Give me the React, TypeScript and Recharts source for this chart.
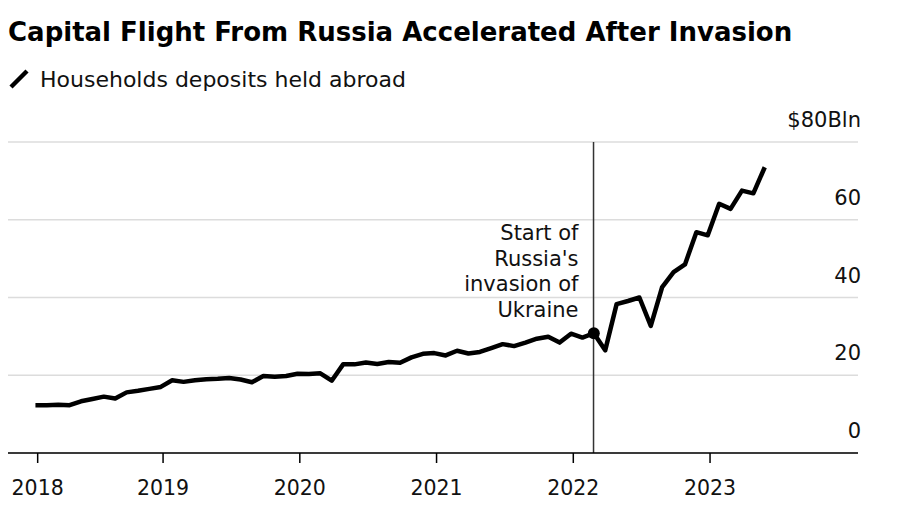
import {
  CartesianGrid,
  Line,
  LineChart,
  ReferenceDot,
  ReferenceLine,
  XAxis,
  YAxis,
} from "recharts";

// monthly, end of month, $ billions
const MONTHS = [
  "2018-01", "2018-02", "2018-03", "2018-04", "2018-05", "2018-06", "2018-07", "2018-08", "2018-09", "2018-10", "2018-11", "2018-12",
  "2019-01", "2019-02", "2019-03", "2019-04", "2019-05", "2019-06", "2019-07", "2019-08", "2019-09", "2019-10", "2019-11", "2019-12",
  "2020-01", "2020-02", "2020-03", "2020-04", "2020-05", "2020-06", "2020-07", "2020-08", "2020-09", "2020-10", "2020-11", "2020-12",
  "2021-01", "2021-02", "2021-03", "2021-04", "2021-05", "2021-06", "2021-07", "2021-08", "2021-09", "2021-10", "2021-11", "2021-12",
  "2022-01", "2022-02", "2022-03", "2022-04", "2022-05", "2022-06", "2022-07", "2022-08", "2022-09", "2022-10", "2022-11", "2022-12",
  "2023-01", "2023-02", "2023-03", "2023-04", "2023-05",
];

const DEPOSITS = [
  12.3, 12.3, 12.4, 12.3, 13.3, 13.9, 14.5, 14.0, 15.6, 16.0, 16.5, 17.0,
  18.7, 18.3, 18.7, 19.0, 19.1, 19.3, 18.9, 18.2, 19.8, 19.6, 19.8, 20.4,
  20.3, 20.5, 18.6, 22.8, 22.8, 23.3, 22.9, 23.4, 23.2, 24.6, 25.5, 25.7,
  25.1, 26.3, 25.6, 26.0, 27.0, 28.0, 27.5, 28.4, 29.4, 29.9, 28.4, 30.7,
  29.7, 30.8, 26.4, 38.3, 39.1, 40.0, 32.7, 42.7, 46.5, 48.5, 56.8, 56.0,
  64.1, 62.8, 67.5, 66.8, 73.5,
];

const Y_TICKS = [0, 20, 40, 60, 80];
const X_TICKS = [2018.083, 2019, 2020, 2021, 2022, 2023];
const INVASION = 2022 + 54 / 365; // Feb 24, 2022
const INVASION_MONTH = "2022-02";
const NOTE_LINES = ["Start of", "Russia's", "invasion of", "Ukraine"];

const FONT = "'DejaVu Sans', 'Liberation Sans', Arial, sans-serif";

// month string -> fractional year, placed near the end of the month
const toYear = (m: string) => {
  const [y, mo] = m.split("-").map(Number);
  return y + (mo - 0.2) / 12;
};

const data = MONTHS.map((m, i) => ({ month: m, t: toYear(m), value: DEPOSITS[i] }));
const invasionPoint = data.find((d) => d.month === INVASION_MONTH)!;

function YTick({ y, payload }: any) {
  const v = payload.value;
  return (
    <text x={861} y={y - 15} textAnchor="end" fontSize={21} fontFamily={FONT} fill="#111">
      {v === 80 ? "$80Bln" : v}
    </text>
  );
}

function XTick({ x, y, payload }: any) {
  return (
    <text x={x} y={y + 30} textAnchor="middle" fontSize={20.5} fontFamily={FONT} fill="#111">
      {Math.floor(payload.value)}
    </text>
  );
}

function InvasionNote({ viewBox }: any) {
  const right = viewBox.x - 15;
  return (
    <text textAnchor="end" fontSize={21} fontFamily={FONT} fill="#111">
      {NOTE_LINES.map((line, i) => (
        <tspan key={line} x={right} y={viewBox.y + 98 + i * 25.5}>
          {line}
        </tspan>
      ))}
    </text>
  );
}

export default function App() {
  return (
    <div style={{ position: "absolute", left: 0, top: 0, width: 900, height: 510, background: "#fff", fontFamily: FONT }}>
      <svg width={900} height={110} style={{ position: "absolute", left: 0, top: 0 }}>
        <text x={8} y={41} fontSize={26} fontWeight="bold" fill="#000" fontFamily={FONT}>
          Capital Flight From Russia Accelerated After Invasion
        </text>
        <line x1={11} y1={87} x2={27} y2={71} stroke="#000" strokeWidth={4.5} />
        <text x={40} y={87} fontSize={22} fill="#111" fontFamily={FONT}>
          Households deposits held abroad
        </text>
      </svg>
      <div style={{ position: "absolute", left: 0, top: 0 }}>
        <LineChart width={900} height={510} data={data} margin={{ top: 142, right: 12, bottom: 27, left: 8 }}>
          <CartesianGrid horizontal vertical={false} stroke="#dcdcdc" strokeWidth={1.5} />
          <XAxis
            dataKey="t"
            type="number"
            domain={[2017.866, 2024.082]}
            ticks={X_TICKS}
            allowDataOverflow
            height={30}
            tickSize={10}
            axisLine={{ stroke: "#000", strokeWidth: 1.5 }}
            tickLine={{ stroke: "#000", strokeWidth: 1.5 }}
            tick={<XTick />}
          />
          <YAxis
            orientation="right"
            width={30}
            domain={[0, 80]}
            ticks={Y_TICKS}
            axisLine={false}
            tickLine={false}
            tick={<YTick />}
          />
          <ReferenceLine x={INVASION} stroke="#333" strokeWidth={1.5} label={<InvasionNote />} />
          <Line
            type="linear"
            dataKey="value"
            stroke="#000"
            strokeWidth={4.5}
            strokeLinejoin="round"
            dot={false}
            isAnimationActive={false}
          />
          <ReferenceDot x={invasionPoint.t} y={invasionPoint.value} r={6} fill="#000" stroke="none" />
        </LineChart>
      </div>
    </div>
  );
}
